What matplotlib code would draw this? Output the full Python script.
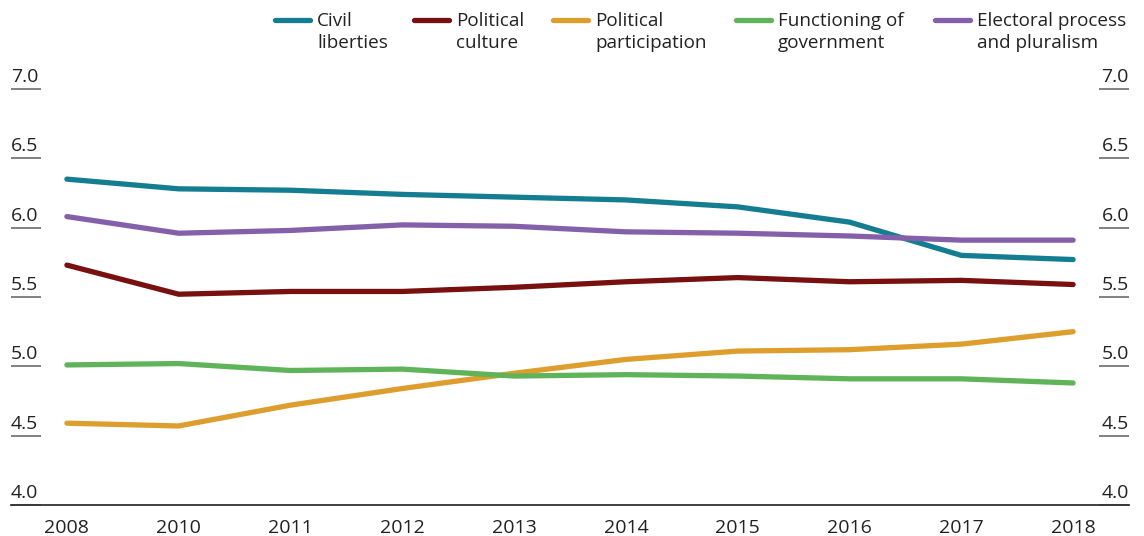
import matplotlib
matplotlib.use("Agg")
import matplotlib.pyplot as plt
import matplotlib.transforms as mtransforms
from matplotlib.lines import Line2D

plt.rcParams['font.family'] = ['Open Sans', 'DejaVu Sans']

years = ["2008", "2010", "2011", "2012", "2013", "2014", "2015", "2016", "2017", "2018"]
civil_liberties = [6.35, 6.28, 6.27, 6.24, 6.22, 6.20, 6.15, 6.04, 5.80, 5.77]
political_culture = [5.73, 5.52, 5.54, 5.54, 5.57, 5.61, 5.64, 5.61, 5.62, 5.59]
political_participation = [4.59, 4.57, 4.72, 4.84, 4.95, 5.05, 5.11, 5.12, 5.16, 5.25]
functioning_of_government = [5.01, 5.02, 4.97, 4.98, 4.93, 4.94, 4.93, 4.91, 4.91, 4.88]
electoral_process = [6.08, 5.96, 5.98, 6.02, 6.01, 5.97, 5.96, 5.94, 5.91, 5.91]

series_names = ["Civil\nliberties", "Political\nculture", "Political\nparticipation",
                "Functioning of\ngovernment", "Electoral process\nand pluralism"]
series_values = [civil_liberties, political_culture, political_participation,
                 functioning_of_government, electoral_process]
colors = ["#147d91", "#78100f", "#de9e2e", "#5fb45a", "#8560aa"]
y_ticks = [4.0, 4.5, 5.0, 5.5, 6.0, 6.5, 7.0]

W, H = 1144, 536
fig = plt.figure(figsize=(W / 100, H / 100), dpi=100)
ax = fig.add_axes([11 / W, (H - 505) / H, (1129 - 11) / W, (505 - 89) / H])

x = list(range(len(years)))
# draw in order so that civil liberties is on top
order = [3, 2, 1, 4, 0]
for i in order:
    ax.plot(x, series_values[i], color=colors[i], lw=3.8, solid_capstyle='round',
            solid_joinstyle='round', zorder=3 + i)

ax.set_xlim(-0.5, len(years) - 0.5)
ax.set_ylim(y_ticks[0], y_ticks[-1])
ax.set_xticks(x)
ax.set_xticklabels(years, fontsize=14, color="#222222")
ax.tick_params(axis='x', length=0, pad=10)

for s in ["left", "right", "top"]:
    ax.spines[s].set_visible(False)
ax.spines["bottom"].set_color("#333333")
ax.spines["bottom"].set_linewidth(1.3)

# y ticks as short underlines on both sides, labels above them
ax.set_yticks(y_ticks)
ax.tick_params(axis='y', which='both', direction='in', length=21.6, width=1.3,
               color="#777777", left=True, right=True, labelleft=False, labelright=False)

left_tr = mtransforms.blended_transform_factory(ax.transAxes, ax.transData)
off = mtransforms.ScaledTranslation(0, 3 / 100, fig.dpi_scale_trans)
for v in y_ticks:
    ax.text(0.0, v, f"{v:.1f}", transform=left_tr + off, ha='left', va='bottom',
            fontsize=14, color="#222222")
    ax.text(1.0, v, f"{v:.1f}", transform=left_tr + off, ha='right', va='bottom',
            fontsize=14, color="#222222")

# legend
handle_x = [275, 414, 553, 736, 935]
for hx, name, c in zip(handle_x, series_names, colors):
    fig.add_artist(Line2D([hx / W, (hx + 35) / W], [1 - 20 / H, 1 - 20 / H],
                          color=c, lw=3.8, solid_capstyle='round', transform=fig.transFigure))
    fig.text((hx + 42) / W, 1 - 12 / H, name, ha='left', va='top', fontsize=13.6,
             color="#222222", linespacing=1.3)

fig.savefig("out.png", dpi=100)
